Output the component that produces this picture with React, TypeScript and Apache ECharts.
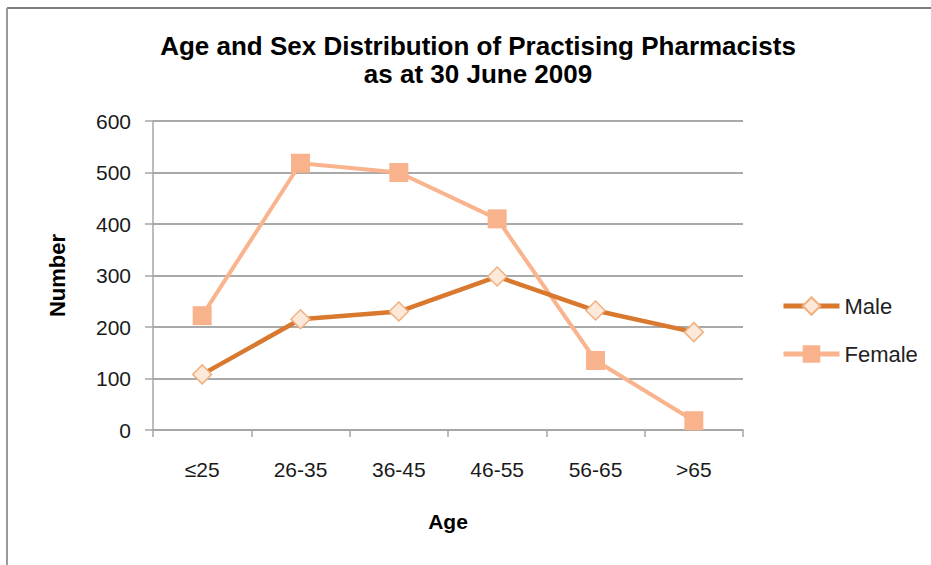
import React, { useEffect, useRef } from "react";
import * as echarts from "echarts";

const categories = ["≤25", "26-35", "36-45", "46-55", "56-65", ">65"];
const maleValues = [108, 215, 230, 298, 232, 190];
const femaleValues = [222, 518, 500, 410, 135, 18];
const yTicks = { min: 0, max: 600, interval: 100 };
const titleLines = ["Age and Sex Distribution of Practising Pharmacists", "as at 30 June 2009"];

const FONT = "'Liberation Sans', Arial, sans-serif";

export default function App() {
  const ref = useRef<HTMLDivElement>(null);
  useEffect(() => {
    document.body.style.margin = "0";
    const chart = echarts.init(ref.current!, null, { renderer: "svg" });
    chart.setOption({
      animation: false,
      backgroundColor: "#ffffff",
      textStyle: { fontFamily: FONT },
      title: {
        text: titleLines.join("\n"),
        left: 473,
        top: 27,
        textAlign: "center",
        textStyle: { fontFamily: FONT, fontSize: 26, fontWeight: "bold", color: "#000", lineHeight: 28 },
      },
      legend: {
        orient: "vertical",
        left: 776,
        top: 289,
        itemWidth: 56,
        itemHeight: 22,
        itemGap: 24,
        lineStyle: { width: 5 },
        textStyle: { fontFamily: FONT, fontSize: 22, color: "#222", lineHeight: 24 },
        data: ["Male", "Female"],
      },
      grid: { left: 153, right: 188, top: 121, bottom: 135, containLabel: false },
      xAxis: {
        type: "category",
        data: categories,
        boundaryGap: true,
        name: "Age",
        nameLocation: "middle",
        nameGap: 81,
        nameTextStyle: { fontFamily: FONT, fontSize: 21, fontWeight: "bold", color: "#000", verticalAlign: "top" },
        axisLine: { lineStyle: { color: "#a6a6a6", width: 1.5 } },
        axisTick: { show: true, length: 7, lineStyle: { color: "#a6a6a6", width: 1.5 } },
        axisLabel: { margin: 29, fontFamily: FONT, fontSize: 21, color: "#1a1a1a" },
      },
      yAxis: {
        type: "value",
        min: yTicks.min,
        max: yTicks.max,
        interval: yTicks.interval,
        name: "Number",
        nameLocation: "middle",
        nameGap: 85,
        nameRotate: 90,
        nameTextStyle: { fontFamily: FONT, fontSize: 22, fontWeight: "bold", color: "#000" },
        axisLine: { show: true, lineStyle: { color: "#a6a6a6", width: 1.5 } },
        axisTick: { show: true, length: 8, lineStyle: { color: "#a6a6a6", width: 1.5 } },
        axisLabel: { margin: 22, fontFamily: FONT, fontSize: 21, color: "#1a1a1a" },
        splitLine: { show: true, lineStyle: { color: "#8c8c8c", width: 1.5 } },
      },
      series: [
        {
          name: "Male",
          type: "line",
          data: maleValues,
          symbol: "diamond",
          symbolSize: 19,
          lineStyle: { color: "#D9782F", width: 4.5 },
          itemStyle: { color: "#FDE9D9", borderColor: "#F0B080", borderWidth: 1.5 },
          z: 3,
        },
        {
          name: "Female",
          type: "line",
          data: femaleValues,
          symbol: "rect",
          symbolSize: 19,
          lineStyle: { color: "#F9B38D", width: 4 },
          itemStyle: { color: "#F8B38C", borderColor: "#F8B38C", borderWidth: 0 },
          z: 2,
        },
      ],
      graphic: [
        { type: "line", shape: { x1: 7, y1: 8, x2: 931, y2: 8 }, style: { stroke: "#7f7f7f", lineWidth: 2 } },
        { type: "line", shape: { x1: 7, y1: 8, x2: 7, y2: 565 }, style: { stroke: "#9a9a9a", lineWidth: 2 } },
      ],
    });
    return () => chart.dispose();
  }, []);
  return <div ref={ref} style={{ width: 931, height: 565 }} />;
}
